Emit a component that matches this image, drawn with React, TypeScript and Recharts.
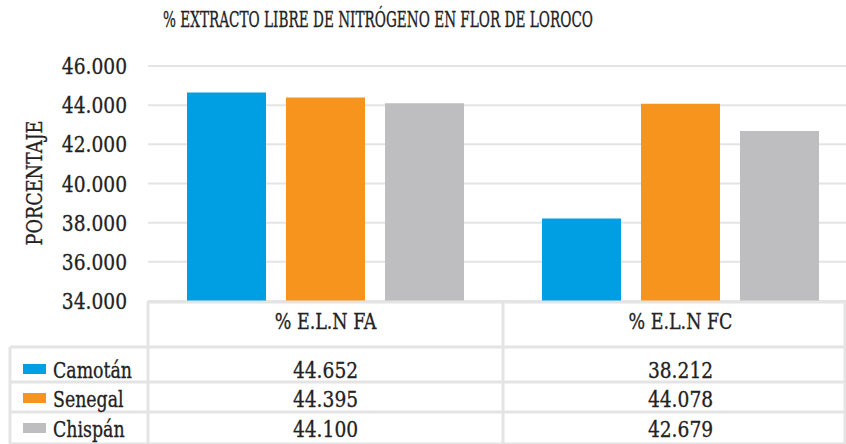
import { Bar, BarChart, CartesianGrid, XAxis, YAxis } from "recharts"

const categories = ["% E.L.N FA", "% E.L.N FC"]
const camotan = [44.652, 38.212]
const senegal = [44.395, 44.078]
const chispan = [44.1, 42.679]
const yTicks = [34, 36, 38, 40, 42, 44, 46]

const seriesList = [
  { key: "camotan", name: "Camotán", values: camotan, color: "#009FE3" },
  { key: "senegal", name: "Senegal", values: senegal, color: "#F7941D" },
  { key: "chispan", name: "Chispán", values: chispan, color: "#BEBEC0" },
]

const data = categories.map((c, i) => ({
  name: c,
  camotan: camotan[i],
  senegal: senegal[i],
  chispan: chispan[i],
}))

const FONT = "DejaVu Serif Condensed, DejaVu Serif, serif"
const TEXT = "#222222"
const LINE = "#E4E4E4"

// layout
const W = 846
const H = 444
const CHART_W = 858
const PLOT_LEFT = 148
const PLOT_TOP = 66
const PLOT_BOTTOM = 301
const TABLE_LEFT = 10
const TABLE_RIGHT = 845
const ROW_LINES = [347, 382, 412, 444]
const BAND = (CHART_W - PLOT_LEFT) / categories.length

// condensed text: the original font is much narrower than anything installed
function CText({ x, y, anchor = "start", size = 23, sx = 0.88, children }: any) {
  return (
    <text
      transform={`translate(${x},${y}) scale(${sx},1)`}
      textAnchor={anchor}
      fontFamily={FONT}
      fontSize={size}
      fill={TEXT}
      stroke={TEXT}
      strokeWidth={0.3}
    >
      {children}
    </text>
  )
}

function YTick({ x, y, payload }: any) {
  return (
    <CText x={x} y={y + 8} anchor="end" sx={0.9}>
      {payload.value.toFixed(3)}
    </CText>
  )
}

export default function App() {
  const rowBaselines = [378, 407, 437]
  return (
    <div style={{ position: "absolute", left: 0, top: 0, width: W, height: H, overflow: "hidden", background: "#fff" }}>
      <BarChart
        width={CHART_W}
        height={H}
        data={data}
        margin={{ top: PLOT_TOP, right: 0, bottom: H - PLOT_BOTTOM, left: 0 }}
        barSize={79}
        barGap={20}
      >
        <CartesianGrid vertical={false} stroke={LINE} strokeWidth={2} />
        <XAxis dataKey="name" hide />
        <YAxis
          width={PLOT_LEFT}
          domain={[34, 46]}
          ticks={yTicks}
          axisLine={false}
          tickLine={false}
          tickSize={0}
          tickMargin={21}
          tick={<YTick />}
        />
        {seriesList.map((s) => (
          <Bar key={s.key} dataKey={s.key} fill={s.color} isAnimationActive={false} />
        ))}
      </BarChart>

      <svg width={W} height={H} style={{ position: "absolute", left: 0, top: 0, pointerEvents: "none" }}>
        <text
          x={378}
          y={27}
          textAnchor="middle"
          fontFamily={FONT}
          fontSize={22}
          fill={TEXT}
          stroke={TEXT}
          strokeWidth={0.3}
          textLength={430}
          lengthAdjust="spacingAndGlyphs"
        >
          % EXTRACTO LIBRE DE NITRÓGENO EN FLOR DE LOROCO
        </text>
        <text
          x={0}
          y={0}
          transform="translate(42,183) rotate(-90)"
          textAnchor="middle"
          fontFamily={FONT}
          fontSize={22}
          fill={TEXT}
          stroke={TEXT}
          strokeWidth={0.3}
          textLength={125}
          lengthAdjust="spacingAndGlyphs"
        >
          PORCENTAJE
        </text>

        {/* table grid */}
        <g stroke={LINE} strokeWidth={3}>
          <line x1={PLOT_LEFT} y1={PLOT_BOTTOM + 1} x2={TABLE_RIGHT} y2={PLOT_BOTTOM + 1} />
          {ROW_LINES.map((y) => (
            <line key={y} x1={TABLE_LEFT} y1={y} x2={TABLE_RIGHT} y2={y} />
          ))}
          <line x1={TABLE_LEFT} y1={ROW_LINES[0]} x2={TABLE_LEFT} y2={H} />
          {categories.map((_, i) => (
            <line key={i} x1={PLOT_LEFT + BAND * i} y1={PLOT_BOTTOM} x2={PLOT_LEFT + BAND * i} y2={H} />
          ))}
          <line x1={TABLE_RIGHT} y1={PLOT_BOTTOM} x2={TABLE_RIGHT} y2={H} />
        </g>

        {categories.map((c, i) => (
          <CText key={c} x={PLOT_LEFT + BAND * (i + 0.5)} y={329} anchor="middle" sx={0.845}>
            {c}
          </CText>
        ))}

        {seriesList.map((s, r) => (
          <g key={s.key}>
            <rect x={23} y={rowBaselines[r] - 14} width={23} height={10} fill={s.color} />
            <CText x={53} y={rowBaselines[r]} sx={0.84}>
              {s.name}
            </CText>
            {s.values.map((v, i) => (
              <CText key={i} x={PLOT_LEFT + BAND * (i + 0.5)} y={rowBaselines[r]} anchor="middle" sx={0.9}>
                {v.toFixed(3)}
              </CText>
            ))}
          </g>
        ))}
      </svg>
    </div>
  )
}
